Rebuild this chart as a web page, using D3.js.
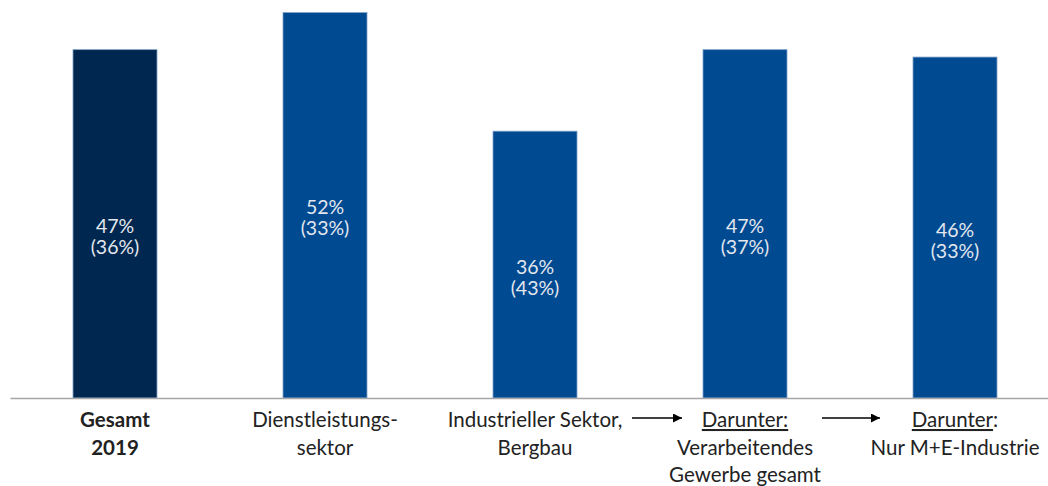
<!DOCTYPE html>
<html>
<head>
<meta charset="utf-8">
<script src="https://cdn.jsdelivr.net/npm/d3@7/dist/d3.min.js"></script>
<style>
  html, body { margin: 0; padding: 0; background: #fff; }
  svg { display: block; }
</style>
</head>
<body>
<svg id="chart" width="1048" height="486"></svg>
<script>
// Category keys and their multi-line axis labels
const categories = ["gesamt", "dienst", "industrie", "verarbeitend", "me"];
const labelLines = [
  ["Gesamt", "2019"],
  ["Dienstleistungs-", "sektor"],
  ["Industrieller Sektor,", "Bergbau"],
  ["Darunter:", "Verarbeitendes", "Gewerbe gesamt"],
  ["Darunter:", "Nur M+E-Industrie"]
];
// Main values (%) and values in parentheses (%)
const values = [47, 52, 36, 47, 46];
const valuesParen = [36, 33, 43, 37, 33];

const width = 1048, height = 486;
const baseY = 398;
const svg = d3.select("#chart");
const font = "Lato, 'Open Sans', sans-serif";

const x = d3.scaleBand().domain(categories).range([10, 1060]).paddingInner(0.6).paddingOuter(0.3);
const y = d3.scaleLinear().domain([0, 53.7]).range([baseY, 0]);

// Bars
svg.append("g").selectAll("rect")
  .data(categories)
  .join("rect")
  .attr("x", d => x(d))
  .attr("y", (d, i) => y(values[i]))
  .attr("width", x.bandwidth())
  .attr("height", (d, i) => baseY - y(values[i]))
  .attr("fill", (d, i) => i === 0 ? "#00274f" : "#004a92")
  .attr("stroke", "#7fa0c8")
  .attr("stroke-width", 0.8);

// Value labels inside bars
const lbl = svg.append("g").selectAll("text")
  .data(categories)
  .join("text")
  .attr("text-anchor", "middle")
  .attr("font-family", font)
  .attr("font-size", 19.5)
  .attr("fill", "#e3e7ee")
  .attr("x", d => x(d) + x.bandwidth() / 2)
  .attr("y", (d, i) => (y(values[i]) + baseY) / 2 + 9);
lbl.append("tspan").text((d, i) => values[i] + "%");
lbl.append("tspan")
  .attr("x", d => x(d) + x.bandwidth() / 2)
  .attr("dy", 21)
  .text((d, i) => "(" + valuesParen[i] + "%)");

// Category axis
const axis = svg.append("g")
  .attr("transform", `translate(0,${baseY})`)
  .call(d3.axisBottom(x).tickSize(0).tickSizeOuter(0).tickFormat(""));
axis.select(".domain").attr("stroke", "#a6a6a6").attr("stroke-width", 1.5);

axis.selectAll(".tick text").remove();
axis.selectAll(".tick").each(function(d, i) {
  const t = d3.select(this).append("text")
    .attr("text-anchor", "middle")
    .attr("font-family", font)
    .attr("font-size", 20.5)
    .attr("fill", "#222")
    .attr("y", 29);
  labelLines[i].forEach((line, j) => {
    const ts = t.append("tspan").attr("x", 0).attr("dy", j === 0 ? 0 : 27.5);
    if (i === 0) ts.attr("font-weight", "bold");
    if (line.startsWith("Darunter")) {
      if (i === 3) {
        ts.attr("text-decoration", "underline").text(line);
      } else {
        ts.append("tspan").attr("text-decoration", "underline").text("Darunter");
        ts.append("tspan").text(":");
      }
    } else {
      ts.text(line);
    }
  });
});

// Arrows between the industry labels
svg.append("defs").append("marker")
  .attr("id", "arrowhead")
  .attr("viewBox", "0 0 10 10")
  .attr("refX", 10).attr("refY", 5)
  .attr("markerWidth", 11).attr("markerHeight", 9)
  .attr("markerUnits", "userSpaceOnUse")
  .attr("orient", "auto")
  .append("path").attr("d", "M0,0L10,5L0,10Z").attr("fill", "#000");

const cx = k => x(k) + x.bandwidth() / 2;
const arrows = [
  { from: cx("industrie") + 97, to: cx("verarbeitend") - 63 },
  { from: cx("verarbeitend") + 77, to: cx("me") - 75 }
];
svg.append("g").selectAll("line")
  .data(arrows)
  .join("line")
  .attr("x1", d => d.from).attr("x2", d => d.to)
  .attr("y1", baseY + 20).attr("y2", baseY + 20)
  .attr("stroke", "#000").attr("stroke-width", 1.3)
  .attr("marker-end", "url(#arrowhead)");
</script>
</body>
</html>
